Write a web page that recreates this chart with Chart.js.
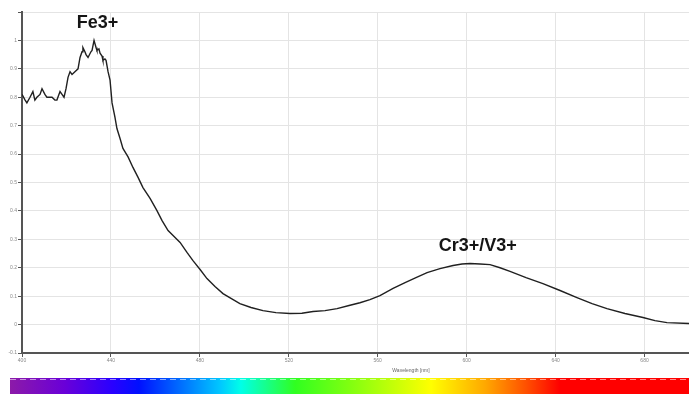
<!DOCTYPE html>
<html>
<head>
<meta charset="utf-8">
<script src="https://cdn.jsdelivr.net/npm/chart.js@4/dist/chart.umd.min.js"></script>
<style>
  html, body { margin: 0; padding: 0; background: #fff; }
  #wrap { width: 689px; height: 394px; position: relative; }
</style>
</head>
<body>
<div id="wrap"><canvas id="spectrumChart"></canvas></div>
<script>
// wavelength in nm, absorbance (normalised)
const wavelengths = [
  400, 401.4, 402.2, 403.6, 404.9, 405.8, 406.7, 408.1, 409.0, 410.3,
  411.2, 412.6, 413.5, 414.8, 415.7, 417.1, 418.0, 418.9, 419.8, 420.7,
  421.6, 422.5, 423.8, 425.2, 426.1, 427.0, 427.4, 428.3, 428.8, 429.7,
  430.1, 431.0, 431.5, 432.4, 433.3, 433.7, 434.6, 435.1, 436.0, 436.4,
  437.3, 437.8, 438.7, 439.6, 440.5, 441.8, 442.7, 444.1, 445.4, 447.7,
  449.9, 452.2, 454.4, 457.6, 460.7, 463.0, 465.7, 468.4, 471.1, 474.2,
  476.9, 480.1, 483.2, 486.8, 490.4, 494.0, 498.0, 503.0, 508.4, 514.2,
  520.5, 525.9, 530.9, 536.3, 541.7, 547.1, 552.0, 556.5, 561.0, 566.9,
  572.3, 577.2, 582.2, 588.0, 593.9, 597.9, 601.5, 606.0, 610.5, 615.0,
  619.5, 626.7, 634.3, 642.0, 649.6, 656.4, 663.1, 671.2, 679.3, 684.7,
  690.1, 700
];
const absorbance = [
  0.81, 0.79, 0.78, 0.80, 0.82, 0.79, 0.80, 0.81, 0.83, 0.81,
  0.80, 0.80, 0.80, 0.79, 0.79, 0.82, 0.81, 0.80, 0.83, 0.87,
  0.89, 0.88, 0.89, 0.90, 0.94, 0.96, 0.975, 0.96, 0.95, 0.94,
  0.94, 0.96, 0.965, 1.00, 0.975, 0.965, 0.97, 0.955, 0.945, 0.93,
  0.935, 0.93, 0.89, 0.86, 0.78, 0.73, 0.69, 0.655, 0.62, 0.59,
  0.553, 0.518, 0.482, 0.444, 0.401, 0.366, 0.331, 0.31, 0.289, 0.254,
  0.225, 0.194, 0.162, 0.134, 0.109, 0.092, 0.074, 0.060, 0.049, 0.042,
  0.039, 0.040, 0.046, 0.049, 0.056, 0.067, 0.077, 0.088, 0.102, 0.127,
  0.148, 0.165, 0.183, 0.197, 0.208, 0.213, 0.215, 0.213, 0.211, 0.20,
  0.187, 0.165, 0.144, 0.12, 0.095, 0.074, 0.056, 0.039, 0.025, 0.014,
  0.007, 0.004
];

const peakNames = ["Fe3+", "Cr3+/V3+"];
const peakWavelengths = [434, 605];
const peakLevels = [1.06, 0.275];

const axisTitle = "Wavelength [nm]";

// visible spectrum strip under the axis
const spectrumStops = [
  [0.00, "#8c1aa8"], [0.08, "#6a00d8"], [0.15, "#2a00ff"], [0.19, "#0010ff"],
  [0.31, "#00c8ff"], [0.34, "#00ffe8"], [0.42, "#30ff20"], [0.50, "#80ff10"],
  [0.62, "#ffff00"], [0.70, "#ffa800"], [0.76, "#ff5000"], [0.81, "#ff0000"],
  [1.00, "#ff0000"]
];

const extras = {
  id: "extras",
  afterDraw(chart) {
    const ctx = chart.ctx;
    const xs = chart.scales.x, ys = chart.scales.y;
    ctx.save();

    // peak labels
    ctx.fillStyle = "#151515";
    ctx.font = "bold 18px 'Liberation Sans', Arial, sans-serif";
    ctx.textAlign = "center";
    ctx.textBaseline = "middle";
    peakNames.forEach((name, i) => {
      ctx.fillText(name, xs.getPixelForValue(peakWavelengths[i]), ys.getPixelForValue(peakLevels[i]));
    });

    // axis title, right of centre like the original
    ctx.font = "5px 'Liberation Sans', Arial, sans-serif";
    ctx.fillStyle = "#666";
    ctx.fillText(axisTitle, 411, 371);

    // colour strip
    const g = ctx.createLinearGradient(10, 0, 689, 0);
    spectrumStops.forEach(s => g.addColorStop(s[0], s[1]));
    ctx.fillStyle = g;
    ctx.fillRect(10, 378, 679, 16);
    ctx.strokeStyle = "rgba(255,255,255,0.55)";
    ctx.setLineDash([6, 4]);
    ctx.lineWidth = 1;
    ctx.beginPath();
    ctx.moveTo(10, 379.5);
    ctx.lineTo(689, 379.5);
    ctx.stroke();
    ctx.restore();
  }
};

document.addEventListener("DOMContentLoaded", function () {
  const ctx = document.getElementById("spectrumChart").getContext("2d");
  new Chart(ctx, {
    type: "line",
    data: {
      datasets: [{
        data: wavelengths.map((w, i) => ({ x: w, y: absorbance[i] })),
        borderColor: "#202020",
        borderWidth: 1.4,
        pointRadius: 0,
        tension: 0,
        fill: false
      }]
    },
    options: {
      responsive: true,
      maintainAspectRatio: false,
      animation: false,
      layout: { padding: { top: 12, left: 0, right: 0, bottom: 0 } },
      plugins: {
        legend: { display: false },
        tooltip: { enabled: false }
      },
      scales: {
        x: {
          type: "linear",
          min: 400,
          max: 700,
          afterFit: s => { s.height = 41; },
          border: { color: "#555", width: 2 },
          grid: { color: "#e4e4e4", tickColor: "#555", tickLength: 4 },
          ticks: {
            stepSize: 40,
            includeBounds: false,
            maxRotation: 0,
            padding: 1,
            color: "#888",
            font: { size: 5, family: "'Liberation Sans', Arial, sans-serif" }
          }
        },
        y: {
          min: -0.1,
          max: 1.1,
          afterFit: s => { s.width = 22; },
          border: { color: "#555", width: 2 },
          grid: { color: "#e4e4e4", tickColor: "#555", tickLength: 4 },
          ticks: {
            stepSize: 0.1,
            padding: 1,
            color: "#888",
            font: { size: 5, family: "'Liberation Sans', Arial, sans-serif" },
            callback: v => {
              if (v > 1.05) return "";
              return String(Math.round(v * 10) / 10);
            }
          }
        }
      }
    },
    plugins: [extras]
  });
});
</script>
</body>
</html>
